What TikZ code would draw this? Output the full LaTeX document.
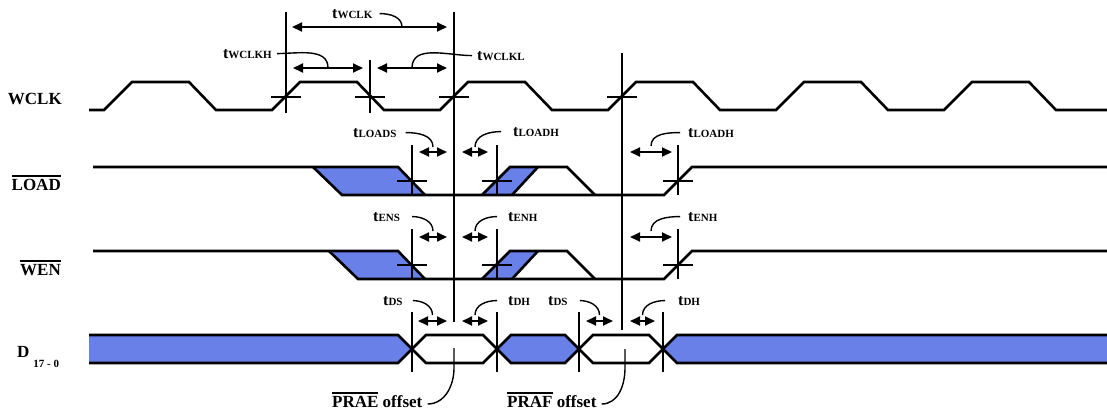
\documentclass[tikz,border=0pt]{standalone}
\usepackage{fontspec}
\setmainfont{Liberation Serif}
\usetikzlibrary{arrows.meta}
\definecolor{busblue}{RGB}{104,128,232}
\newcommand\tsub[1]{t{\fontsize{11}{13}\selectfont #1}}
\newcommand\barred[1]{\vbox{\hrule height 1.6pt\kern 1.8pt\hbox{#1}}}
\tikzset{
  sig/.style={line width=2.6pt},
  tickline/.style={line width=2.4pt},
  lead/.style={line width=1.4pt},
  span/.style={line width=1.8pt,{Triangle[length=10pt,width=9pt]}-{Triangle[length=10pt,width=9pt]}},
  lab/.style={inner sep=0pt,font=\bfseries\fontsize{17}{20}\selectfont},
  tlab/.style={inner sep=0pt,anchor=base west,font=\bfseries\fontsize{16}{19}\selectfont},
}
\begin{document}
\begin{tikzpicture}[x=1pt,y=1pt]
\useasboundingbox (0,0) rectangle (1107,-413);
% signal names
\node[lab,anchor=base east] (wclk) at (62,-104) {WCLK};
\node[lab,anchor=base east] (load) at (61,-190) {\barred{LOAD}};
\node[lab,anchor=base east] (wen) at (61,-275) {\barred{WEN}};
\node[lab,anchor=base west] (data) at (17,-357) {D\hspace{4pt}\raisebox{-10pt}{\fontsize{11}{13}\selectfont 17 - 0}};
% WCLK
\draw[sig] (89,-110) \foreach \r in {104,272,440,608,776,944} { -- (\r,-110) -- (\r+28,-82) -- (\r+85,-82) -- (\r+112,-110) } -- (1107,-110);
\draw[tickline] (286,-12) -- (286,-113);
\draw[tickline] (370,-60) -- (370,-113);
\draw[tickline] (454,-12) -- (454,-322);
\draw[tickline] (622,-53) -- (622,-330);
\foreach \x in {286,370,454,622} \draw[tickline] (\x-15,-97) -- (\x+15,-97);
% clock period, high, low
\draw[span] (292,-27) -- coordinate[pos=.71] (aWclk) (447,-27);
\node[tlab] (tWclk) at (332,-18) {\tsub{WCLK}};
\draw[lead] ([xshift=7pt]tWclk.east) to[out=0,in=90] (aWclk);
\draw[span] (293,-68) -- coordinate (aWclkH) (363,-68);
\node[tlab,anchor=base east] (tWclkH) at (272,-58) {\tsub{WCLKH}};
\draw[lead] ([xshift=5pt]tWclkH.east) to[out=0,in=90] (aWclkH);
\draw[span] (377,-68) -- coordinate (aWclkL) (447,-68);
\node[tlab] (tWclkL) at (477,-60) {\tsub{WCLKL}};
\draw[lead] ([xshift=-5pt]tWclkL.west) to[out=180,in=90] (aWclkL);
% LOAD and WEN
\foreach \y/\e in {-167/313,-251/329} {
  \fill[busblue] (\e,\y) -- (398,\y) -- (425,\y-28) -- (\e+29,\y-28) -- cycle;
  \fill[busblue] (482,\y-28) -- (510,\y) -- (538,\y) -- (512,\y-28) -- cycle;
  \draw[sig] (93,\y) -- (398,\y) -- (425,\y-28);
  \draw[sig] (\e,\y) -- (\e+29,\y-28) -- (664,\y-28) -- (692,\y) -- (1107,\y);
  \draw[sig] (482,\y-28) -- (510,\y) -- (567,\y) -- (595,\y-28);
  \draw[sig] (512,\y-28) -- (538,\y);
}
\foreach \y in {-181,-265} \foreach \x in {412,497,678} {
  \draw[tickline] (\x,\y+36) -- (\x,\y-14);
  \draw[tickline] (\x-15,\y) -- (\x+15,\y);
}
\draw[span] (419,-152) -- coordinate (aLoadS) (447,-152);
\node[tlab] (tLoadS) at (353,-137) {\tsub{LOADS}};
\draw[lead] ([xshift=9pt]tLoadS.east) to[out=0,in=90] ([yshift=5pt]aLoadS);
\draw[span] (462,-152) -- coordinate (aLoadH) (488,-152);
\node[tlab] (tLoadH) at (513,-136) {\tsub{LOADH}};
\draw[lead] ([xshift=-12pt]tLoadH.west) to[out=180,in=90] ([yshift=5pt]aLoadH);
\draw[span] (630,-152) -- coordinate (aLoadH2) (672,-152);
\node[tlab] (tLoadH2) at (688,-137) {\tsub{LOADH}};
\draw[lead] ([xshift=-8pt]tLoadH2.west) to[out=180,in=90] ([yshift=6pt]aLoadH2);
\draw[span] (419,-237) -- coordinate (aEnS) (447,-237);
\node[tlab] (tEnS) at (373,-221) {\tsub{ENS}};
\draw[lead] ([xshift=12pt]tEnS.east) to[out=0,in=90] ([yshift=6pt]aEnS);
\draw[span] (462,-237) -- coordinate (aEnH) (488,-237);
\node[tlab] (tEnH) at (508,-221) {\tsub{ENH}};
\draw[lead] ([xshift=-11pt]tEnH.west) to[out=180,in=90] ([yshift=6pt]aEnH);
\draw[span] (630,-237) -- coordinate (aEnH2) (672,-237);
\node[tlab] (tEnH2) at (688,-221) {\tsub{ENH}};
\draw[lead] ([xshift=-8pt]tEnH2.west) to[out=180,in=90] ([yshift=6pt]aEnH2);
% D bus
\fill[busblue] (89,-335) -- (398,-335) -- (412,-349) -- (398,-363) -- (89,-363) -- cycle;
\fill[busblue] (497,-349) -- (511,-335) -- (565,-335) -- (579,-349) -- (565,-363) -- (511,-363) -- cycle;
\fill[busblue] (663,-349) -- (677,-335) -- (1107,-335) -- (1107,-363) -- (677,-363) -- cycle;
\draw[sig] (89,-335) -- (398,-335) -- (426,-363) -- (483,-363) -- (511,-335) -- (565,-335) -- (593,-363) -- (649,-363) -- (677,-335) -- (1107,-335);
\draw[sig] (89,-363) -- (398,-363) -- (426,-335) -- (483,-335) -- (511,-363) -- (565,-363) -- (593,-335) -- (649,-335) -- (677,-363) -- (1107,-363);
\foreach \x in {412,497,579,663} \draw[tickline] (\x,-312) -- (\x,-372);
\draw[span] (418,-321) -- coordinate (aDs) (447,-321);
\node[tlab] (tDs) at (383,-305) {\tsub{DS}};
\draw[lead] ([xshift=10pt]tDs.east) to[out=0,in=90] ([yshift=6pt]aDs);
\draw[span] (462,-321) -- coordinate (aDh) (488,-321);
\node[tlab] (tDh) at (508,-305) {\tsub{DH}};
\draw[lead] ([xshift=-11pt]tDh.west) to[out=180,in=90] ([yshift=6pt]aDh);
\draw[span] (586,-321) -- coordinate (aDs2) (613,-321);
\node[tlab] (tDs2) at (548,-305) {\tsub{DS}};
\draw[lead] ([xshift=12pt]tDs2.east) to[out=0,in=90] ([yshift=6pt]aDs2);
\draw[span] (630,-321) -- coordinate (aDh2) (655,-321);
\node[tlab] (tDh2) at (678,-305) {\tsub{DH}};
\draw[lead] ([xshift=-13pt]tDh2.west) to[out=180,in=90] ([yshift=6pt]aDh2);
% offset flags
\coordinate (praeEnd) at (454,-348);
\coordinate (prafEnd) at (625,-349);
\node[lab,anchor=base west] (prae) at (332,-407) {\barred{PRAE} offset};
\draw[lead] ([shift={(5pt,3pt)}]prae.base east) to[out=0,in=-90] (454,-368) -- (praeEnd);
\node[lab,anchor=base west] (praf) at (507,-407) {\barred{PRAF} offset};
\draw[lead] ([shift={(5pt,3pt)}]praf.base east) to[out=0,in=-90] (625,-368) -- (prafEnd);
\end{tikzpicture}
\end{document}
